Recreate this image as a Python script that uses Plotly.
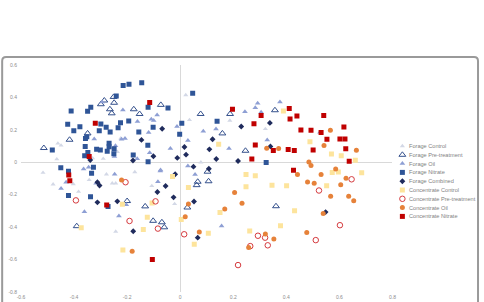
import plotly.graph_objects as go

# ---------------- data ----------------
forage_control_x = [-0.461, -0.449, -0.465, -0.517, -0.479, -0.403, -0.383, -0.278, -0.256, -0.243, -0.171, -0.107,
                    -0.243, -0.021, -0.290, -0.237, 0.021, 0.035, 0.187, 0.321, 0.078, -0.224, -0.330, -0.343]
forage_control_y = [0.116, 0.104, 0.019, -0.064, -0.136, -0.134, -0.181, -0.074, -0.130, -0.130, -0.060, -0.146,
                    -0.427, -0.257, 0.022, 0.065, 0.415, 0.261, 0.257, 0.206, 0.000, 0.148, 0.025, -0.109]

forage_pre_x = [-0.514, -0.417, -0.349, -0.299, -0.286, -0.251, -0.249, -0.265, -0.258, -0.175, -0.153, -0.073,
                0.077, 0.188, 0.159, 0.246, 0.357, 0.103, 0.107, 0.066, 0.062, 0.027, 0.361, -0.200, -0.132,
                -0.102, -0.069, -0.060, -0.390]
forage_pre_y = [0.088, 0.139, 0.178, 0.358, 0.381, 0.403, 0.367, 0.327, 0.302, 0.327, 0.298, 0.354,
                0.298, 0.298, 0.178, 0.071, 0.321, -0.058, -0.117, -0.120, -0.141, -0.279, -0.271, -0.239, -0.272,
                -0.361, -0.370, -0.401, -0.394]

forage_oil_x = [-0.216, -0.161, -0.109, -0.100, -0.087, -0.119, -0.221, -0.208, -0.244, -0.324, -0.248, -0.115,
                -0.037, -0.012, -0.162, -0.074, -0.294, 0.244, 0.283, 0.292, 0.305, 0.376, 0.029, 0.087, 0.135,
                0.184, 0.328, 0.029, 0.056, 0.527, -0.449, -0.430, -0.364, -0.345, -0.361, -0.317, -0.247,
                -0.075, -0.084, -0.203, -0.231, 0.156]
forage_oil_y = [0.323, 0.252, 0.265, 0.258, 0.291, 0.183, 0.142, 0.147, 0.102, 0.144, 0.035, 0.059,
                0.085, 0.220, 0.022, -0.048, 0.372, 0.312, 0.337, 0.364, 0.309, 0.372, 0.135, 0.191, 0.206,
                0.085, 0.138, -0.023, -0.075, 0.185, -0.162, -0.123, -0.041, -0.031, -0.305, -0.130, -0.074,
                -0.054, -0.120, -0.262, -0.332, -0.393]

forage_nitrate_x = [-0.215, -0.193, -0.145, -0.241, -0.121, -0.046, -0.411, -0.349, -0.337, -0.424, -0.378, -0.401,
                    -0.299, -0.279, -0.305, -0.225, -0.194, -0.234, -0.264, -0.156, -0.102, -0.352, -0.357, -0.358,
                    -0.268, -0.268, -0.315, -0.301, -0.275, -0.348, -0.360, -0.249, -0.250, -0.177, -0.122, -0.121,
                    -0.482, -0.450, -0.421, -0.327, -0.334, -0.421, -0.338, -0.272, 0.047, 0.006, -0.002, 0.139, 0.324]
forage_nitrate_y = [0.473, 0.481, 0.490, 0.409, 0.340, 0.335, 0.317, 0.315, 0.340, 0.235, 0.219, 0.195,
                    0.236, 0.216, 0.194, 0.244, 0.254, 0.213, 0.187, 0.187, 0.216, 0.158, 0.146, 0.098,
                    0.117, 0.096, 0.081, 0.076, 0.068, 0.060, 0.040, 0.084, 0.053, 0.045, 0.105, 0.004,
                    0.076, -0.034, -0.055, -0.031, -0.068, -0.205, -0.212, -0.273, 0.426, 0.241, 0.173, 0.253, -0.002]

forage_combined_x = [-0.068, -0.146, -0.101, -0.011, -0.178, -0.339, -0.019, 0.230, 0.338, 0.122, 0.016, 0.110,
                     0.022, 0.136, 0.218, 0.340, 0.050, 0.108, -0.055, -0.086, -0.025, -0.237, -0.304, -0.312,
                     -0.312, -0.177, 0.052, 0.066, 0.548]
forage_combined_y = [0.207, 0.138, 0.037, 0.027, 0.011, 0.014, -0.074, 0.221, 0.243, 0.142, 0.094, 0.080,
                     0.047, 0.020, 0.008, 0.098, -0.027, -0.040, -0.146, -0.183, -0.216, -0.241, -0.143, -0.123,
                     -0.247, -0.425, -0.242, -0.465, -0.307]

conc_control_x = [0.389, 0.145, 0.489, 0.570, 0.607, 0.660, 0.573, 0.596, 0.684, 0.248, 0.283, -0.029,
                  0.401, 0.552, 0.346, 0.248, 0.031, 0.431, 0.378, 0.150, 0.262, 0.106, 0.053, 0.004,
                  -0.218, -0.106, -0.124, -0.139, -0.216, -0.373]
conc_control_y = [0.317, 0.111, 0.127, 0.051, 0.040, 0.013, -0.063, -0.060, -0.064, -0.075, -0.083, -0.088,
                  -0.144, -0.144, -0.141, -0.151, -0.156, -0.299, -0.391, -0.310, -0.424, -0.438, -0.506, -0.353,
                  -0.259, -0.251, -0.339, -0.415, -0.541, -0.404]

conc_pre_x = [-0.206, -0.393, -0.093, -0.191, -0.084, 0.646, 0.523, 0.602, 0.511, 0.015, 0.293, 0.320,
              0.330, 0.264, 0.218]
conc_pre_y = [-0.123, -0.235, -0.241, -0.362, -0.409, -0.105, -0.174, -0.388, -0.480, -0.444, -0.453, -0.465,
              -0.512, -0.517, -0.634]

conc_oil_x = [0.326, 0.371, 0.485, 0.493, 0.566, 0.542, 0.664, 0.586, 0.531, 0.442, 0.625, 0.480,
              0.505, 0.605, 0.567, 0.635, 0.654, 0.539, 0.477, 0.205, 0.233, 0.168, 0.031, 0.019,
              0.072, 0.321, 0.353, 0.258, -0.221, -0.181]
conc_oil_y = [0.086, 0.085, 0.002, -0.020, 0.198, 0.104, 0.075, -0.041, -0.075, -0.075, -0.099, -0.122,
              -0.130, -0.138, -0.209, -0.209, -0.237, -0.316, -0.433, -0.186, -0.253, -0.288, -0.257, -0.336,
              -0.430, -0.443, -0.473, -0.525, -0.109, -0.549]

conc_nitrate_x = [-0.320, -0.115, -0.343, -0.420, -0.416, -0.277, -0.105, 0.197, 0.305, 0.278, 0.283, 0.270,
                  0.351, 0.411, 0.414, 0.440, 0.455, 0.493, 0.531, 0.541, 0.553, 0.617, 0.602, 0.621,
                  0.624, 0.637, 0.501, 0.430, 0.407, 0.427]
conc_nitrate_y = [0.241, 0.368, 0.035, -0.078, -0.114, -0.264, -0.600, 0.327, 0.288, 0.238, 0.107, 0.020,
                  0.072, 0.332, 0.267, 0.286, 0.199, 0.198, 0.183, 0.288, 0.142, 0.217, 0.144, 0.144,
                  0.084, 0.007, 0.076, 0.072, 0.079, -0.049]

x_ticks = [-0.6, -0.4, -0.2, 0, 0.2, 0.4, 0.6, 0.8]
x_tick_labels = ["-0.6", "-0.4", "-0.2", "0", "0.2", "0.4", "0.6", "0.8"]
y_ticks = [-0.8, -0.6, -0.4, -0.2, 0, 0.2, 0.4, 0.6]
y_tick_labels = ["-0.8", "-0.6", "-0.4", "-0.2", "0", "0.2", "0.4", "0.6"]

series = [
    ("Forage Control", forage_control_x, forage_control_y, dict(symbol="triangle-up", size=4.5, color="#d3d8e6")),
    ("Forage Pre-treatment", forage_pre_x, forage_pre_y,
     dict(symbol="triangle-up-open", size=6, color="#34508c", line=dict(width=1, color="#34508c"))),
    ("Forage Oil", forage_oil_x, forage_oil_y, dict(symbol="triangle-up", size=5, color="#8e9fd4")),
    ("Forage Nitrate", forage_nitrate_x, forage_nitrate_y, dict(symbol="square", size=5, color="#2f5597")),
    ("Forage Combined", forage_combined_x, forage_combined_y, dict(symbol="diamond", size=4.5, color="#1f2b5c")),
    ("Concentrate Control", conc_control_x, conc_control_y, dict(symbol="square", size=5, color="#fde49c")),
    ("Concentrate Pre-treatment", conc_pre_x, conc_pre_y,
     dict(symbol="circle-open", size=5.5, color="#d53a3e", line=dict(width=1, color="#d53a3e"))),
    ("Concentrate Oil", conc_oil_x, conc_oil_y, dict(symbol="circle", size=5, color="#e6823a")),
    ("Concentrate Nitrate", conc_nitrate_x, conc_nitrate_y, dict(symbol="square", size=5, color="#c00000")),
]

# ---------------- layout geometry (pixels) ----------------
W, H = 484, 302
ML, MR, MT, MB = 21, 0, 65, 10
PW = W - ML - MR
PH = H - MT - MB
PLOT_RIGHT = 395.7


def px_x(px):
    return (px - ML) / PW


def px_y(py):
    return (H - MB - py) / PH


FONT = "Liberation Sans, Arial, sans-serif"
TICK_FONT = dict(family=FONT, size=5, color="#8c8c8c")

fig = go.Figure()
for name, xs, ys, mk in series:
    fig.add_trace(go.Scatter(x=xs, y=ys, mode="markers", name=name, marker=mk,
                             showlegend=False, hoverinfo="skip"))

# custom compact legend (marker on a hidden overlay axis + text annotation)
LEG_X = 405.7
LEG_Y0 = 146.0
LEG_DY = 8.8
n = len(series)
for i, (name, xs, ys, mk) in enumerate(series):
    fig.add_trace(go.Scatter(x=[0], y=[i], mode="markers", marker=mk, xaxis="x2", yaxis="y2",
                             showlegend=False, hoverinfo="skip", cliponaxis=False))
    fig.add_annotation(x=px_x(LEG_X + 4.5), y=px_y(LEG_Y0 + i * LEG_DY), xref="paper", yref="paper",
                       text=name, showarrow=False, xanchor="left", yanchor="middle",
                       font=dict(family=FONT, size=5.6, color="#7f7f7f"))

# rounded chart border
x0, x1 = px_x(2), px_x(482)
yt, yb = px_y(57), px_y(320)
rx, ry = 4 / PW, 4 / PH
path = (f"M {x0},{yb} L {x0},{yt - ry} Q {x0},{yt} {x0 + rx},{yt} "
        f"L {x1 - rx},{yt} Q {x1},{yt} {x1},{yt - ry} L {x1},{yb}")
fig.add_shape(type="path", path=path, xref="paper", yref="paper",
              line=dict(color="#9a9a9a", width=2))

fig.update_layout(
    width=W, height=H,
    margin=dict(l=ML, r=MR, t=MT, b=MB),
    paper_bgcolor="white", plot_bgcolor="white",
    font=dict(family=FONT),
    showlegend=False,
    xaxis=dict(domain=[0, px_x(PLOT_RIGHT)], range=[-0.6, 0.8], tickvals=x_ticks, ticktext=x_tick_labels,
               showgrid=False, zeroline=True, zerolinecolor="#d9d9d9", zerolinewidth=1,
               showline=False, ticks="", tickfont=TICK_FONT, fixedrange=True, ticklabelstandoff=1),
    yaxis=dict(range=[-0.8, 0.6], tickvals=y_ticks, ticktext=y_tick_labels,
               showgrid=False, zeroline=True, zerolinecolor="#d9d9d9", zerolinewidth=1,
               showline=False, ticks="", tickfont=TICK_FONT, fixedrange=True, ticklabelstandoff=3),
    xaxis2=dict(domain=[px_x(LEG_X), 1], range=[0, 1], visible=False, anchor="y2", fixedrange=True),
    yaxis2=dict(domain=[px_y(LEG_Y0 + (n - 0.5) * LEG_DY), px_y(LEG_Y0 - 0.5 * LEG_DY)],
                range=[n - 0.5, -0.5], visible=False, anchor="x2", fixedrange=True),
)

fig.write_html("out.html")
